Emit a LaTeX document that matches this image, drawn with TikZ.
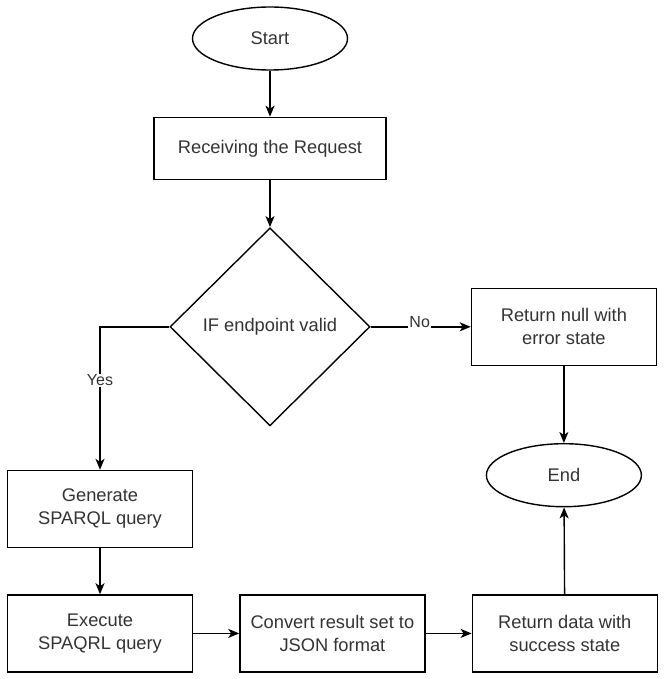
\documentclass[tikz,border=0pt]{standalone}
\usepackage{fontspec}
\setmainfont{Liberation Sans}
\usetikzlibrary{positioning,shapes.geometric,arrows.meta}

\begin{document}
\begin{tikzpicture}[x=1pt, y=1pt, line width=1.4pt,
    txt/.style={text=black!80, font=\fontsize{18.3}{23}\selectfont, align=center, inner sep=0pt},
    term/.style={txt, draw, ellipse, minimum width=155pt, minimum height=63pt},
    proc/.style={txt, draw, rectangle, minimum width=185pt, minimum height=77pt},
    cond/.style={txt, draw, diamond, aspect=1, minimum width=200pt, minimum height=198pt},
    lbl/.style={text=black!80, font=\fontsize{16}{19}\selectfont, fill=white, inner sep=1pt},
    flow/.style={-{Stealth[length=11pt, width=9pt, inset=3pt]}}]
      \useasboundingbox (0,0) rectangle (663,-679);
        \node [term] (st) at (270,-38.5) {Start};
        \node [proc, minimum width=232pt, minimum height=62pt, below=46pt of st] (rq) {Receiving the Request};
        \node [cond, below=47pt of rq] (if) {IF endpoint valid};
        \node [proc, right=100pt of if] (nl) {Return null with\\error state};
        \node [term, below=77pt of nl] (en) {End};
        \node [proc] (gq) at (100,-509) {Generate\\SPARQL query};
        \node [proc, below=46pt of gq] (xq) {Execute\\SPAQRL query};
        \node [proc, right=46pt of xq] (cj) {Convert result set to\\JSON format};
        \node [proc, right=46pt of cj] (rd) {Return data with\\success state};
        \draw [flow] (st) -- (rq);
        \draw [flow] (rq) -- (if);
        \draw [flow] (if.east) -- node [lbl, pos=.49, yshift=5pt] {No} (nl.west);
        \draw [flow] (if.west) -| node [lbl, pos=.687] {Yes} (gq.north);
        \draw [flow] (gq) -- (xq);
        \draw [flow] (xq) -- (cj);
        \draw [flow] (cj) -- (rd);
        \draw [flow] (nl) -- (en);
        \draw [flow] (rd) -- (en);
    \end{tikzpicture}
\end{document}
